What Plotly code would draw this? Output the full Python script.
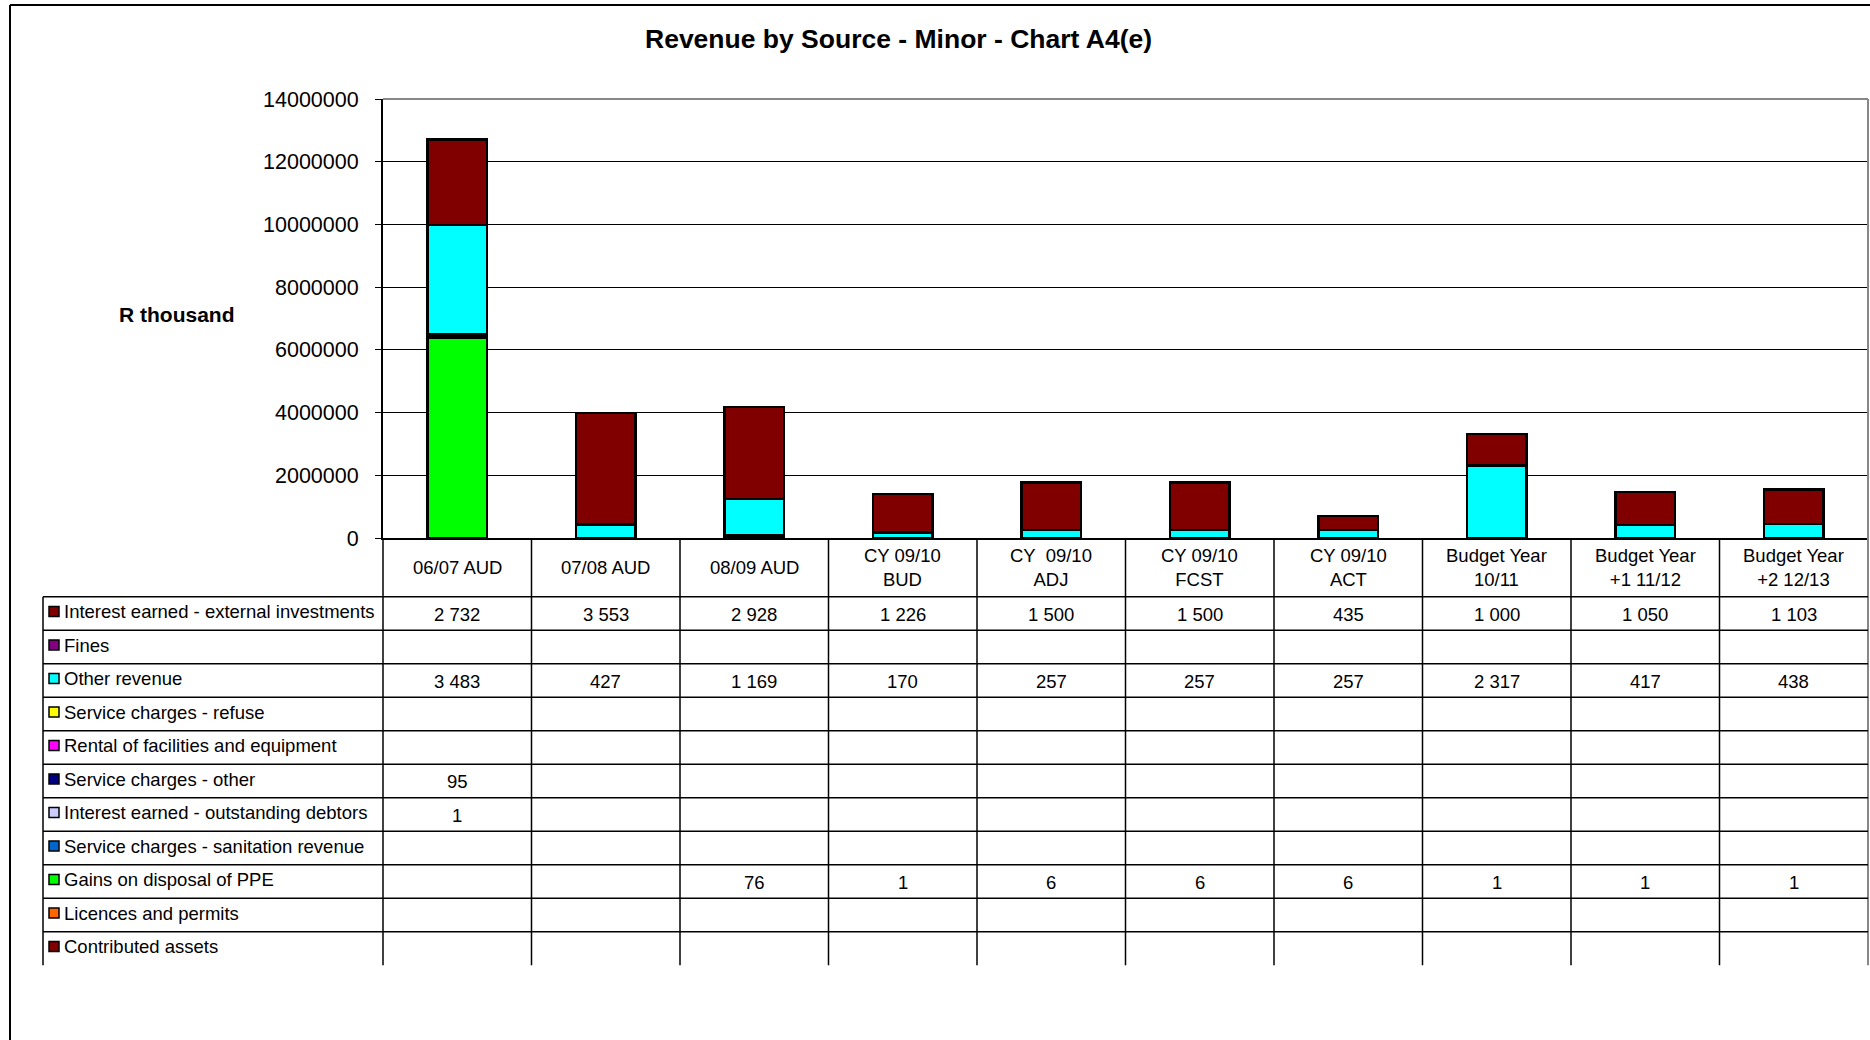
import plotly.graph_objects as go

W, H = 1870, 1040

categories = ["06/07 AUD", "07/08 AUD", "08/09 AUD", "CY 09/10<br>BUD", "CY  09/10<br>ADJ",
              "CY 09/10<br>FCST", "CY 09/10<br>ACT", "Budget Year<br>10/11",
              "Budget Year<br>+1 11/12", "Budget Year<br>+2 12/13"]

# values in R thousand (table order)
interest_external = [2732, 3553, 2928, 1226, 1500, 1500, 435, 1000, 1050, 1103]
fines = [None] * 10
other_revenue = [3483, 427, 1169, 170, 257, 257, 257, 2317, 417, 438]
refuse = [None] * 10
rental = [None] * 10
service_other = [95, None, None, None, None, None, None, None, None, None]
interest_debtors = [1, None, None, None, None, None, None, None, None, None]
sanitation = [None] * 10
gains_ppe = [6400, None, 76, 1, 6, 6, 6, 1, 1, 1]          # as drawn in the bars
gains_ppe_table = [None, None, 76, 1, 6, 6, 6, 1, 1, 1]    # as printed in the table
licences = [None] * 10
contributed = [None] * 10

series = [
    ("Interest earned - external investments", interest_external, interest_external, "#800000"),
    ("Fines", fines, fines, "#800080"),
    ("Other revenue", other_revenue, other_revenue, "#00FFFF"),
    ("Service charges - refuse", refuse, refuse, "#FFFF00"),
    ("Rental of facilities and equipment", rental, rental, "#FF00FF"),
    ("Service charges - other", service_other, service_other, "#000080"),
    ("Interest earned - outstanding debtors", interest_debtors, interest_debtors, "#CCCCFF"),
    ("Service charges - sanitation revenue", sanitation, sanitation, "#0066CC"),
    ("Gains on disposal of PPE", gains_ppe, gains_ppe_table, "#00FF00"),
    ("Licences and permits", licences, licences, "#FF6600"),
    ("Contributed assets", contributed, contributed, "#800000"),
]

UNIT = 1000  # chart axis drawn in Rand

def px(x):
    return x / W

def py(y):
    return 1 - y / H

# layout geometry (pixels)
PL, PR, PT, PB = 383, 1868, 99, 538
TL = 43
ROW0 = 596.7
RH = 33.5
NROWS = len(series)
TB = ROW0 + NROWS * RH
CW = (PR - PL) / len(categories)
FONT = "Liberation Sans, Arial"

fig = go.Figure()
for name, vals, _, color in reversed(series):
    y = [v * UNIT if v is not None else None for v in vals]
    fig.add_trace(go.Bar(x=list(range(len(categories))), y=y, name=name,
                         marker=dict(color=color, line=dict(color="black", width=2.5)),
                         showlegend=False))

shapes = []
annotations = []

# outer frame
shapes.append(dict(type="line", xref="paper", yref="paper", x0=px(10), x1=px(10), y0=py(5), y1=0,
                   line=dict(color="black", width=2)))
shapes.append(dict(type="line", xref="paper", yref="paper", x0=px(10), x1=1, y0=py(5), y1=py(5),
                   line=dict(color="black", width=2)))
# plot area top/right border
shapes.append(dict(type="line", xref="paper", yref="paper", x0=px(PL), x1=px(PR), y0=py(PT), y1=py(PT),
                   line=dict(color="#888888", width=2)))
shapes.append(dict(type="line", xref="paper", yref="paper", x0=px(PR), x1=px(PR), y0=py(PT), y1=py(TB),
                   line=dict(color="#888888", width=2)))
# table vertical lines
for i in range(len(categories)):
    xx = PL + i * CW
    shapes.append(dict(type="line", xref="paper", yref="paper", x0=px(xx), x1=px(xx), y0=py(PB), y1=py(TB),
                       line=dict(color="black", width=1.5)))
shapes.append(dict(type="line", xref="paper", yref="paper", x0=px(TL), x1=px(TL), y0=py(ROW0), y1=py(TB),
                   line=dict(color="black", width=1.5)))
# table horizontal lines
for k in range(NROWS):
    yy = ROW0 + k * RH
    shapes.append(dict(type="line", xref="paper", yref="paper", x0=px(TL), x1=px(PR), y0=py(yy), y1=py(yy),
                       line=dict(color="black", width=1.5)))

# header labels
for i, c in enumerate(categories):
    annotations.append(dict(x=px(PL + (i + 0.5) * CW), y=py((PB + ROW0) / 2), xref="paper", yref="paper",
                            text=c, showarrow=False, xanchor="center", yanchor="middle",
                            font=dict(size=18.5, color="black", family=FONT)))

def fmt(v):
    if v is None:
        return ""
    return f"{v:,}".replace(",", " ")

for k, (name, _, tvals, color) in enumerate(series):
    yc = ROW0 + (k + 0.5) * RH
    shapes.append(dict(type="rect", xref="paper", yref="paper", x0=px(49), x1=px(59), y0=py(yc - 7), y1=py(yc + 3),
                       fillcolor=color, line=dict(color="black", width=1.5)))
    annotations.append(dict(x=px(62), y=py(yc - 1.5), xref="paper", yref="paper", text=name, showarrow=False,
                            xanchor="left", yanchor="middle",
                            font=dict(size=18.5, color="black", family=FONT)))
    for i, v in enumerate(tvals):
        t = fmt(v)
        if t:
            annotations.append(dict(x=px(PL + (i + 0.5) * CW), y=py(yc + 1), xref="paper", yref="paper",
                                    text=t, showarrow=False, xanchor="center", yanchor="middle",
                                    font=dict(size=18.5, color="black", family=FONT)))

# y axis title
annotations.append(dict(x=px(117), y=py(314), xref="paper", yref="paper", text="<b>R thousand</b>",
                        showarrow=False, xanchor="left", yanchor="middle",
                        font=dict(size=21, color="black", family=FONT)))
# title
annotations.append(dict(x=px(898), y=py(39), xref="paper", yref="paper",
                        text="<b>Revenue by Source - Minor - Chart A4(e)</b>",
                        showarrow=False, xanchor="center", yanchor="middle",
                        font=dict(size=26.5, color="black", family=FONT)))

fig.update_layout(
    width=W, height=H, margin=dict(l=0, r=0, t=0, b=0, autoexpand=False),
    paper_bgcolor="white", plot_bgcolor="white",
    barmode="stack", bargap=0.6, showlegend=False,
    shapes=shapes, annotations=annotations,
    xaxis=dict(domain=[px(PL), px(PR)], range=[-0.5, len(categories) - 0.5], showticklabels=False,
               automargin=False,
               showgrid=False, zeroline=False, showline=True, linecolor="black", linewidth=2, ticks=""),
    yaxis=dict(domain=[py(PB), py(PT)], range=[0, 14000000], dtick=2000000, tickformat="d",
               automargin=False,
               showgrid=True, gridcolor="black", gridwidth=1.2, zeroline=False,
               showline=True, linecolor="black", linewidth=2, ticks="outside", ticklen=6,
               tickcolor="black", ticklabelstandoff=12,
               tickfont=dict(size=21.5, color="black", family=FONT)),
)

fig.write_html("out.html")
